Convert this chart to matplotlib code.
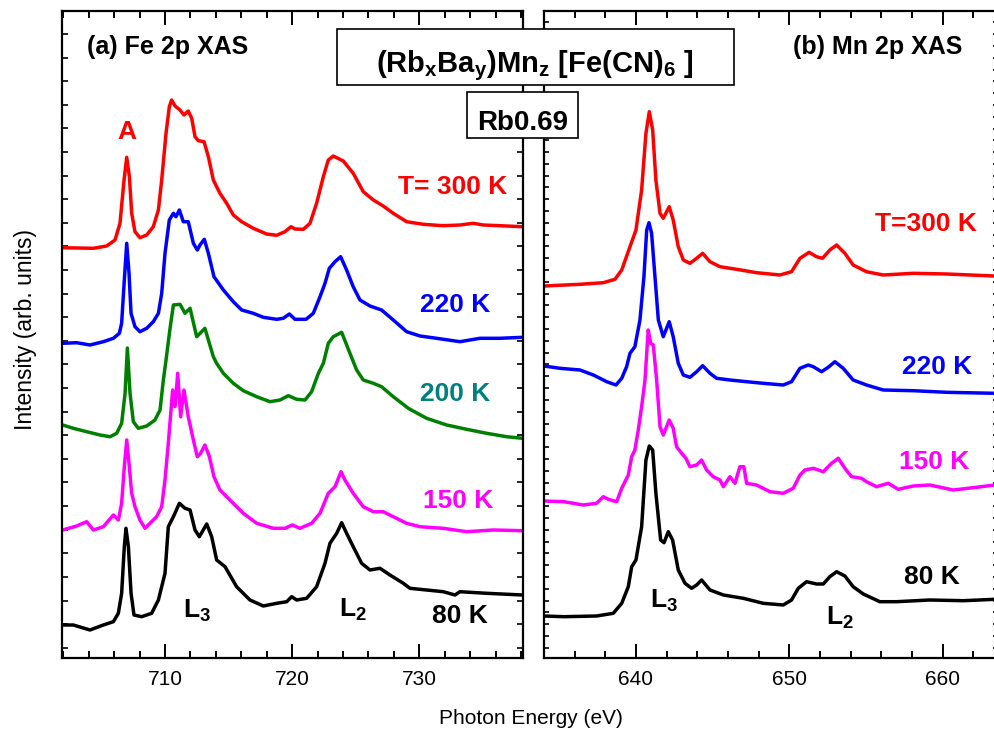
import numpy as np
import matplotlib
matplotlib.use("Agg")
import matplotlib.pyplot as plt
from matplotlib.patches import Rectangle
from matplotlib.ticker import MultipleLocator, FixedLocator, NullFormatter

plt.rcParams['font.family'] = ['Liberation Sans', 'DejaVu Sans']
plt.rcParams['mathtext.fontset'] = 'custom'
plt.rcParams['mathtext.bf'] = 'Liberation Sans:bold'
plt.rcParams['mathtext.rm'] = 'Liberation Sans'
plt.rcParams['mathtext.it'] = 'Liberation Sans:italic'

# ---------------- Fe 2p XAS (panel a) ----------------
fe_300_E = [701.95, 704.37, 705.41, 706.07, 706.46, 706.78, 706.99, 707.2, 707.38, 707.64, 708.03, 708.56,
            709.08, 709.48, 709.74, 710.08, 710.34, 710.52, 710.79, 711.18, 711.49, 711.83, 712.1, 712.36,
            712.62, 713.07, 713.41, 713.8, 714.32, 714.85, 715.37, 716.03, 716.94, 717.99, 718.78, 719.43,
            719.91, 720.22, 720.88, 721.4, 721.92, 722.45, 722.84, 723.23, 724.02, 724.8, 725.59, 726.38,
            727.16, 727.95, 729.0, 730.31, 731.88, 733.19, 734.24, 735.03, 738.12]
fe_300_I = [410.3, 409.7, 412, 418, 434.7, 478, 500.7, 481.3, 444.7, 426.3, 420.3, 423,
            431.3, 448, 478, 524.7, 551.3, 558, 552, 548, 543, 547, 539.7, 521.3,
            517.3, 516.3, 501.3, 478, 464.7, 454.7, 443, 436.3, 429.7, 424, 422.7, 426.3,
            431.3, 429, 428.7, 434.7, 454.7, 481.3, 498, 502, 497, 484.7, 466.3, 458,
            452, 444.7, 436.3, 433.7, 432.3, 433, 434.7, 433, 431.3]

fe_220_E = [701.95, 703.05, 704.1, 705.15, 705.94, 706.41, 706.59, 706.8, 706.99, 707.17, 707.33, 707.64,
            708.03, 708.56, 709.08, 709.48, 709.74, 710.0, 710.34, 710.66, 710.86, 711.13, 711.44, 711.83,
            712.23, 712.54, 712.75, 713.09, 713.41, 713.85, 714.59, 715.37, 716.03, 716.94, 717.73, 718.78,
            719.3, 719.78, 720.22, 721.09, 721.66, 722.19, 722.58, 722.92, 723.37, 723.81, 724.28, 724.8,
            725.33, 726.12, 727.03, 727.95, 729.0, 730.05, 731.36, 733.19, 734.76, 736.33, 738.12]
fe_220_I = [314.7, 315.3, 313, 316.3, 319.7, 324.7, 334.7, 378, 414.7, 384.7, 344.7, 331.3,
            326.3, 329.7, 336.3, 344.7, 364.7, 404.7, 438, 444.7, 441.3, 448, 436.3, 436.3,
            414.7, 408, 413, 418.7, 404.7, 381.3, 368, 356.3, 348, 344.7, 340.7, 338.7,
            339.7, 344, 338.7, 338.7, 344.7, 361.3, 374.7, 389.7, 396.3, 401.3, 388, 371.3,
            358, 352, 348, 338, 326.3, 322, 319.7, 316.3, 319.7, 319.7, 320.7]

fe_200_E = [701.95, 702.79, 703.84, 704.89, 705.68, 706.2, 706.59, 706.86, 707.04, 707.25, 707.51, 707.9,
            708.56, 709.21, 709.61, 709.87, 710.08, 710.4, 710.66, 711.18, 711.57, 711.97, 712.49, 713.14,
            713.41, 713.8, 714.06, 714.59, 715.37, 716.16, 717.21, 718.26, 719.04, 719.7, 720.35, 721.01,
            721.53, 722.06, 722.45, 722.84, 723.23, 723.89, 724.54, 725.07, 725.59, 726.38, 727.03, 727.95,
            729.13, 730.57, 732.15, 733.72, 735.29, 736.86, 738.12]
fe_200_I = [233, 229.7, 226.3, 223, 221.3, 224.7, 234.7, 264.7, 310, 264.7, 236.3, 229.7,
            232, 238, 248, 278, 298, 330, 353, 353.7, 344.7, 349.7, 321.3, 329.7,
            318, 301.3, 294.7, 284.7, 274.7, 267.3, 261.3, 256.3, 258, 262.3, 258.7, 258,
            266.3, 284.7, 294.7, 314.7, 321.3, 325.7, 304.7, 288, 278, 274.7, 271.3, 261.3,
            249.7, 239.7, 233, 228.7, 224.7, 221.3, 219.7]

fe_150_E = [701.95, 703.05, 703.84, 704.37, 705.15, 705.94, 706.33, 706.59, 706.8, 706.99, 707.17, 707.38,
            707.64, 708.03, 708.43, 708.82, 709.34, 709.74, 710.0, 710.26, 710.6, 710.79, 711.0, 711.23,
            711.49, 711.83, 712.23, 712.54, 712.8, 713.14, 713.49, 713.85, 714.32, 715.11, 716.16, 717.21,
            718.52, 719.43, 720.01, 720.61, 721.53, 722.19, 722.84, 723.37, 723.84, 724.15, 724.8, 725.59,
            726.38, 727.16, 727.95, 729.0, 730.05, 731.88, 733.72, 735.81, 738.12]
fe_150_I = [128, 132, 136.3, 128, 131.3, 143, 138, 154.7, 191.3, 218, 194.7, 164.7,
            151.3, 138, 129.7, 134.7, 141.3, 151.3, 178, 214.7, 268, 251.3, 284.7, 241.3,
            268, 241.3, 218, 201.3, 204.7, 213, 201.3, 181.3, 168, 158, 144.7, 134.7,
            129.7, 129.7, 133, 129.7, 134.7, 144.7, 164.7, 171.3, 186.3, 178, 164.7, 151.3,
            146.3, 146.3, 141.3, 134.7, 131.3, 129.7, 126.3, 128, 127.3]

fe_80_E = [701.95, 702.79, 704.1, 705.15, 705.94, 706.33, 706.59, 706.8, 706.93, 707.12, 707.33, 707.56,
           708.16, 708.95, 709.48, 710.0, 710.26, 710.66, 711.13, 711.57, 711.97, 712.36, 712.7, 713.28,
           713.67, 714.06, 714.72, 715.63, 716.68, 717.73, 718.78, 719.57, 719.96, 720.35, 721.14, 721.92,
           722.58, 722.97, 723.5, 723.89, 724.28, 724.8, 725.46, 726.12, 726.9, 727.69, 728.74, 729.26,
           730.57, 731.88, 732.8, 733.19, 735.29, 738.12]
fe_80_I = [33, 33, 28, 33, 36.3, 44.7, 64.7, 111.3, 129.7, 111.3, 64.7, 43,
           41.3, 44.7, 58, 84.7, 131.3, 141.3, 154.7, 149.7, 148, 128, 121.3, 134,
           121.3, 98, 91.3, 71.3, 58, 52, 54.7, 56.3, 61.3, 58, 59.7, 71.3,
           94.7, 114.7, 124.7, 135.3, 124.7, 111.3, 94.7, 88, 89.7, 83, 74.7, 69.7,
           68, 66.3, 63, 66.3, 64.7, 63]

# ---------------- Mn 2p XAS (panel b) ----------------
mn_300_E = [634.0, 636.35, 637.87, 638.63, 639.07, 639.61, 640.0, 640.37, 640.65, 640.87, 641.09, 641.3,
            641.57, 641.78, 642.17, 642.43, 642.76, 643.09, 643.52, 643.96, 644.35, 644.83, 645.48, 646.57,
            647.87, 649.39, 650.15, 650.7, 651.3, 651.78, 652.17, 652.65, 653.09, 653.63, 654.17, 655.04,
            656.13, 658.09, 660.26, 663.41]
mn_300_I = [372, 373.7, 375.3, 378.7, 388, 411.3, 428, 468, 524.7, 546.3, 528, 478,
            444.7, 439.7, 451.3, 438, 411.3, 398, 394.7, 399.7, 404.7, 396.3, 391.3, 388.7,
            385.3, 383, 386.3, 399.7, 405.7, 401.3, 399.7, 408, 413, 404.7, 393, 386.3,
            383, 384.7, 384, 382]

mn_220_E = [634.0, 635.04, 636.35, 637.22, 638.09, 638.7, 639.07, 639.39, 639.61, 639.93, 640.26, 640.52,
            640.7, 640.85, 641.02, 641.24, 641.46, 641.78, 642.17, 642.43, 642.76, 643.09, 643.52, 643.96,
            644.35, 644.83, 645.26, 646.13, 647.22, 648.3, 649.61, 650.15, 650.7, 651.24, 651.57, 652.11,
            652.54, 652.98, 653.52, 654.17, 655.04, 656.13, 658.09, 660.26, 663.41]
mn_220_I = [292, 289.7, 288, 283, 276.3, 273, 279.7, 291.3, 304.7, 311.3, 338, 381.3,
            428, 435.3, 424.7, 381.3, 338, 321.3, 336.3, 321.3, 294.7, 283, 280.7, 286.3,
            292.3, 284.7, 279.7, 278, 276.3, 274.7, 273, 276.3, 289.7, 293, 291.3, 286.3,
            290.7, 296.3, 289.7, 278, 273, 268, 267.3, 265.7, 264.7]

mn_150_E = [634.0, 635.3, 636.57, 637.43, 637.87, 638.2, 638.74, 639.07, 639.5, 639.72, 639.93, 640.15,
            640.37, 640.59, 640.8, 640.96, 641.13, 641.35, 641.57, 641.78, 642.17, 642.43, 642.65, 642.98,
            643.26, 643.52, 643.96, 644.28, 644.61, 645.04, 645.48, 645.7, 646.13, 646.46, 646.78, 647.04,
            647.22, 647.87, 648.74, 649.61, 650.26, 650.7, 651.02, 651.57, 652.22, 652.76, 653.2, 653.63,
            654.07, 654.72, 655.04, 655.7, 656.46, 657.11, 658.09, 659.17, 660.7, 662.22, 663.41]
mn_150_I = [157, 156.3, 153, 154.7, 161.3, 158.7, 156.3, 169.7, 183, 201.3, 208, 228,
            251.3, 278, 328, 314.7, 313, 278, 231.3, 223, 238, 229.7, 211.3, 204.7,
            199.7, 191.3, 193, 198, 188, 181.3, 178, 171.3, 181.3, 174.7, 191.3, 191.3,
            174.7, 173, 166.3, 164.7, 169.7, 183, 188, 189.7, 186.3, 194.7, 199.7, 189.7,
            181.3, 179.7, 176.3, 171.3, 174.7, 168.7, 172, 173, 168, 170.7, 173]

mn_80_E = [634.0, 635.3, 637.43, 638.52, 639.07, 639.5, 639.72, 640.0, 640.37, 640.65, 640.87, 641.09,
           641.3, 641.61, 641.83, 642.11, 642.39, 642.76, 643.2, 643.63, 643.96, 644.28, 644.83, 645.7,
           647.0, 648.3, 649.61, 650.15, 650.59, 651.13, 651.78, 652.22, 652.65, 653.09, 653.63, 654.17,
           654.83, 655.91, 657.0, 659.17, 661.35, 663.41]
mn_80_I = [42, 41.3, 42, 44.7, 54.7, 71.3, 91.3, 98, 131.3, 198, 212, 208,
           164.7, 118, 115.3, 126.3, 118, 88, 74.7, 69.7, 73, 78, 68, 63,
           59.7, 54.7, 53, 58, 69.7, 76.3, 74, 74, 81.3, 86.3, 82, 71.3,
           64, 56.3, 56.3, 58, 57.3, 58.7]

fe_series = [(fe_300_E, fe_300_I, '#ff0000'), (fe_220_E, fe_220_I, '#0000ff'),
             (fe_200_E, fe_200_I, '#008000'), (fe_150_E, fe_150_I, '#ff00ff'),
             (fe_80_E, fe_80_I, '#000000')]
mn_series = [(mn_300_E, mn_300_I, '#ff0000'), (mn_220_E, mn_220_I, '#0000ff'),
             (mn_150_E, mn_150_I, '#ff00ff'), (mn_80_E, mn_80_I, '#000000')]

fe_ticks = [710, 720, 730]
mn_ticks = [640, 650, 660]

W, H = 995, 729
fig = plt.figure(figsize=(W / 100, H / 100), dpi=100)


def fx(px):
    return px / W


def fy(py):
    return 1 - py / H


axL = fig.add_axes([fx(62), fy(658), (523 - 62) / W, 647 / H])
axR = fig.add_axes([fx(544), fy(658), (998 - 544) / W, 647 / H])

for E, I, c in fe_series:
    axL.plot(E, I, color=c, lw=2.5, solid_joinstyle='round')
for E, I, c in mn_series:
    axR.plot(E, I, color=c, lw=2.5, solid_joinstyle='round')

axL.set_xlim(701.9, 738.15)
axR.set_xlim(634.0, 663.62)
for ax, ticks, ystep, ylen in ((axL, fe_ticks, 23.6, 4.5), (axR, mn_ticks, 11.8, 3.5)):
    ax.set_ylim(0, 647)
    ax.xaxis.set_major_locator(FixedLocator(ticks))
    ax.xaxis.set_minor_locator(MultipleLocator(2))
    ax.yaxis.set_major_locator(FixedLocator(np.arange(10.3, 647, ystep)))
    ax.yaxis.set_major_formatter(NullFormatter())
    ax.tick_params(axis='x', which='major', direction='in', length=10, width=1.4,
                   top=True, bottom=True, labelsize=15, pad=8.5)
    ax.tick_params(axis='x', which='minor', direction='in', length=5, width=1.4,
                   top=True, bottom=True)
    ax.tick_params(axis='y', which='major', direction='in', length=ylen, width=1.2,
                   left=True, right=True)
    for s in ax.spines.values():
        s.set_linewidth(1.6)

# curve labels
lab = dict(fontsize=19, fontweight='bold', ha='right', va='baseline')
fig.text(fx(507), fy(193.5), 'T= 300 K', color='#ff0000', **lab)
fig.text(fx(490), fy(312), '220 K', color='#0000ff', **lab)
fig.text(fx(490), fy(401), '200 K', color='#008080', **lab)
fig.text(fx(493), fy(508), '150 K', color='#ff00ff', **lab)
fig.text(fx(488), fy(623), '80 K', color='#000000', **lab)

fig.text(fx(977), fy(231), 'T=300 K', color='#ff0000', **lab)
fig.text(fx(972), fy(374.5), '220 K', color='#0000ff', **lab)
fig.text(fx(969), fy(468.5), '150 K', color='#ff00ff', **lab)
fig.text(fx(960), fy(584.5), '80 K', color='#000000', **lab)

fig.text(fx(126.7), fy(139.3), 'A', color='#ff0000', fontsize=19, fontweight='bold',
         ha='center', va='baseline')

for x, y, s in ((183, 618, r'$\mathbf{L_3}$'), (339, 617, r'$\mathbf{L_2}$'),
                (650, 608, r'$\mathbf{L_3}$'), (826, 625, r'$\mathbf{L_2}$')):
    fig.text(fx(x), fy(y), s, fontsize=19, ha='left', va='baseline', color='black')

fig.text(fx(87), fy(54), '(a) Fe 2p XAS', fontsize=18, fontweight='bold', ha='left', va='baseline')
fig.text(fx(793), fy(54), '(b) Mn 2p XAS', fontsize=18, fontweight='bold', ha='left', va='baseline')

# boxes
fig.patches.append(Rectangle((fx(337), fy(85)), (734 - 337) / W, (85 - 29) / H,
                             transform=fig.transFigure, facecolor='white',
                             edgecolor='black', lw=1.2, zorder=5))
fig.patches.append(Rectangle((fx(467), fy(138)), (578 - 467) / W, (138 - 92) / H,
                             transform=fig.transFigure, facecolor='white',
                             edgecolor='black', lw=1.2, zorder=5))
fig.text(fx(534.5), fy(72), r'$\mathbf{(Rb_{x}Ba_{y})Mn_{z}\ [Fe(CN)_{6}\ ]}$', fontsize=21,
         ha='center', va='baseline', zorder=6)
fig.text(fx(522.5), fy(130), 'Rb0.69', fontsize=20, fontweight='bold',
         ha='center', va='baseline', zorder=6)

fig.text(fx(531), fy(718), 'Photon Energy (eV)', fontsize=15, ha='center', va='center')
fig.text(fx(26), fy(330), 'Intensity (arb. units)', fontsize=16.5, ha='center', va='center',
         rotation=90)

fig.savefig('out.png', dpi=100)
